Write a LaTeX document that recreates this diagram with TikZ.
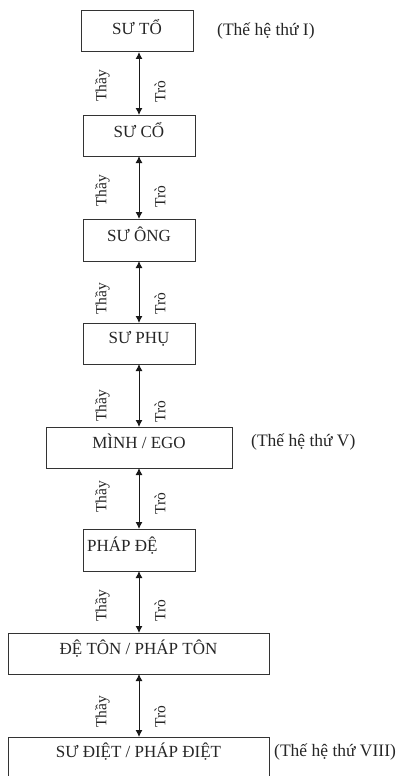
\documentclass[tikz,border=0pt]{standalone}
\usepackage{fontspec}
\setmainfont{Liberation Serif}
\usetikzlibrary{arrows.meta}
\begin{document}
\begin{tikzpicture}[x=1pt,y=-1pt,
  box/.style={draw=black!80, line width=1pt, inner sep=0pt, outer sep=0pt, anchor=north west, minimum height=41pt},
  txt/.style={inner sep=0pt, font=\fontsize{17}{19}\selectfont, text=black!85},
  gen/.style={inner sep=0pt, anchor=west, font=\fontsize{17.5}{19}\selectfont, text=black!85},
  rel/.style={inner sep=0pt, anchor=west, rotate=90, font=\fontsize{15.5}{17}\selectfont, text=black!85},
  arr/.style={line width=1pt, draw=black!90, {Latex[length=7pt,width=7pt]}-{Latex[length=7pt,width=7pt]}}
]
\clip (0,0) rectangle (403,776);
\fill[white] (0,0) rectangle (403,776);
\coordinate (ax) at (139,0);

% boxes
\node[box, minimum width=112pt] (b1) at (81,11) {};
\node[box, minimum width=112pt] (b2) at (83,115) {};
\node[box, minimum width=112pt, minimum height=42pt] (b3) at (83,219) {};
\node[box, minimum width=112pt] (b4) at (83,323) {};
\node[box, minimum width=186pt] (b5) at (46,427) {};
\node[box, minimum width=112pt, minimum height=42pt] (b6) at (83,529) {};
\node[box, minimum width=261pt] (b7) at (8,633) {};
\node[box, minimum width=261pt, minimum height=60pt] (b8) at (8,737) {};

% box texts
\node[txt] (t1) at ([yshift=4pt]b1.center) {SƯ TỔ};
\node[txt] (t2) at ([yshift=5pt]b2.center) {SƯ CỔ};
\node[txt] (t3) at ([yshift=6pt]b3.center) {SƯ ÔNG};
\node[txt] (t4) at ([yshift=5pt]b4.center) {SƯ PHỤ};
\node[txt] (t5) at ([yshift=6pt]b5.center) {MÌNH / EGO};
\node[txt, anchor=west] (t6) at ([xshift=4pt,yshift=4pt]b6.west) {PHÁP ĐỆ};
\node[txt] (t7) at ([yshift=5pt]b7.center) {ĐỆ TÔN / PHÁP TÔN};
\node[txt] (t8) at ([yshift=-15pt]b8.north) {SƯ ĐIỆT / PHÁP ĐIỆT};

% generation labels
\node[gen] (g1) at (217,31) {(Thế hệ thứ I)};
\node[gen] (g5) at (251,442) {(Thế hệ thứ V)};
\node[gen] (g8) at (274,752) {(Thế hệ thứ VIII)};

% arrows
\draw[arr] (b1.south -| ax) -- (b2.north -| ax);
\draw[arr] (b2.south -| ax) -- (b3.north -| ax);
\draw[arr] (b3.south -| ax) -- (b4.north -| ax);
\draw[arr] (b4.south -| ax) -- (b5.north -| ax);
\draw[arr] (b5.south -| ax) -- (b6.north -| ax);
\draw[arr] (b6.south -| ax) -- (b7.north -| ax);
\draw[arr] (b7.south -| ax) -- (b8.north -| ax);

% Thầy / Trò labels
\node[rel] (th1) at (102.5,102) {Thầy};
\node[rel] (tr1) at (160,103) {Trò};
\node[rel] (th2) at (102.5,207) {Thầy};
\node[rel] (tr2) at (160,208) {Trò};
\node[rel] (th3) at (102.5,315) {Thầy};
\node[rel] (tr3) at (160,315) {Trò};
\node[rel] (th4) at (102.5,422) {Thầy};
\node[rel] (tr4) at (160,423) {Trò};
\node[rel] (th5) at (102.5,513) {Thầy};
\node[rel] (tr5) at (160,515) {Trò};
\node[rel] (th6) at (102.5,622) {Thầy};
\node[rel] (tr6) at (160,622) {Trò};
\node[rel] (th7) at (102.5,728) {Thầy};
\node[rel] (tr7) at (160,728) {Trò};
\end{tikzpicture}
\end{document}
